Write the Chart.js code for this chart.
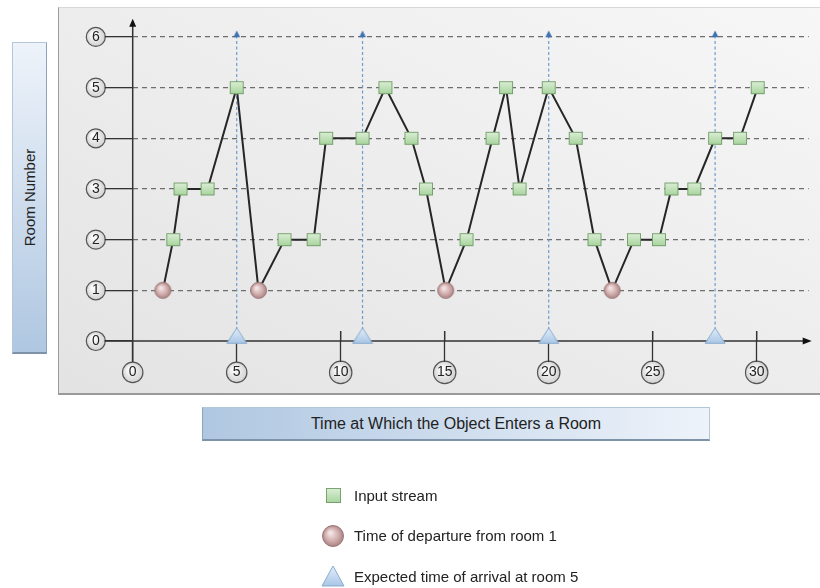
<!DOCTYPE html>
<html>
<head>
<meta charset="utf-8">
<title>Room entry times</title>
<script src="https://cdn.jsdelivr.net/npm/chart.js@4.4.1/dist/chart.umd.min.js"></script>
<style>
  body {
    margin: 0;
    width: 820px;
    height: 588px;
    position: relative;
    overflow: hidden;
    background: #fff;
    font-family: "Liberation Sans", Arial, sans-serif;
    color: #222;
  }
  #panel {
    position: absolute;
    left: 58px;
    top: 7px;
    width: 780px;
    height: 385px;
    background: linear-gradient(to top right, #e3e3e3, #f7f7f7);
    border-left: 1px solid #9c9c9c;
    border-top: 1px solid #d8d8d8;
    border-bottom: 2px solid #9a9a9a;
  }
  #chart-box {
    position: absolute;
    left: 0;
    top: 0;
    width: 820px;
    height: 588px;
  }
  .axis-title {
    position: absolute;
    box-sizing: border-box;
    display: flex;
    align-items: center;
    justify-content: center;
    white-space: nowrap;
  }
  #ytitle {
    left: 12px;
    top: 42px;
    width: 35px;
    height: 312px;
    font-size: 15px;
    background: linear-gradient(to bottom, #eef3fa, #afc7e1);
    border: 1px solid #b4c6da;
    border-right: 1px solid #8fa3ba;
    border-bottom: 2px solid #7e93aa;
  }
  #ytitle span { transform: rotate(-90deg); }
  #xtitle {
    left: 202px;
    top: 407px;
    width: 508px;
    height: 34px;
    font-size: 16px;
    background: linear-gradient(to right, #afc7e1, #eef3fa);
    border: 1px solid #b4c6da;
    border-left: 1px solid #8fa3ba;
    border-bottom: 2px solid #7e93aa;
  }
  #legend {
    position: absolute;
    left: 318px;
    top: 475px;
    font-size: 15px;
  }
  .item {
    display: flex;
    align-items: center;
    height: 40.5px;
  }
  .icon {
    width: 30px;
    display: flex;
    justify-content: center;
    margin-right: 6px;
  }
</style>
</head>
<body>
<div id="panel"></div>
<div id="chart-box"><canvas id="rooms-chart" width="820" height="588"></canvas></div>
<div id="ytitle" class="axis-title"><span>Room Number</span></div>
<div id="xtitle" class="axis-title">Time at Which the Object Enters a Room</div>
<div id="legend"></div>
<script>
// time (x) and room number (y) of each event in the input stream
const streamTimes = [1.45, 1.95, 2.3, 3.6, 5.0, 6.05, 7.3, 8.7, 9.3, 11.05, 12.15, 13.4, 14.1, 15.05, 16.05,
  17.3, 17.95, 18.6, 20.0, 21.3, 22.2, 23.05, 24.1, 25.3, 25.9, 27.0, 28.0, 29.2, 30.05];
const streamRooms = [1, 2, 3, 3, 5, 1, 2, 2, 4, 4, 5, 4, 3, 1, 2, 4, 5, 3, 5, 4, 2, 1, 2, 2, 3, 3, 4, 4, 5];
const departureRoom = 1;
const arrivalTimes = [5, 11.05, 20, 28];
const timeTicks = [0, 5, 10, 15, 20, 25, 30];
const roomTicks = [0, 1, 2, 3, 4, 5, 6];

const legendLabels = ["Input stream", "Time of departure from room 1", "Expected time of arrival at room 5"];

const tickFontSize = 14;
Chart.defaults.font.family = '"Liberation Sans", Arial, sans-serif';
Chart.defaults.font.size = tickFontSize;
Chart.defaults.color = "#222";

function makeCanvas(w, h, draw) {
  const c = document.createElement("canvas");
  c.width = w;
  c.height = h;
  draw(c.getContext("2d"), w, h);
  return c;
}

function squareMarker(w, h) {
  return makeCanvas(w + 2, h + 2, (ctx) => {
    const g = ctx.createLinearGradient(0, 1, 0, h + 1);
    g.addColorStop(0, "#dcf0d6");
    g.addColorStop(1, "#a6d39c");
    ctx.fillStyle = g;
    ctx.fillRect(1, 1, w, h);
    ctx.strokeStyle = "rgba(108,150,100,0.85)";
    ctx.lineWidth = 1;
    ctx.strokeRect(1.5, 1.5, w - 1, h - 1);
  });
}

function circleMarker(d) {
  return makeCanvas(d + 2, d + 2, (ctx) => {
    const r = d / 2;
    const c = r + 1;
    const g = ctx.createRadialGradient(c - r * 0.25, c - r * 0.3, r * 0.1, c, c, r);
    g.addColorStop(0, "#f3e5e5");
    g.addColorStop(0.6, "#cfa9a9");
    g.addColorStop(1, "#a67f7f");
    ctx.beginPath();
    ctx.arc(c, c, r - 0.5, 0, Math.PI * 2);
    ctx.fillStyle = g;
    ctx.fill();
    ctx.strokeStyle = "#9a7777";
    ctx.lineWidth = 1;
    ctx.stroke();
  });
}

// apex sits "up" px above the point, base "down" px below it
function triangleMarker(w, up, down) {
  const half = Math.ceil(Math.max(up, down)) + 1;
  return makeCanvas(w + 2, half * 2, (ctx) => {
    const cx = (w + 2) / 2;
    const g = ctx.createLinearGradient(0, half - up, 0, half + down);
    g.addColorStop(0, "#e4eefa");
    g.addColorStop(1, "#a8c6e6");
    ctx.beginPath();
    ctx.moveTo(cx, half - up);
    ctx.lineTo(cx + w / 2, half + down);
    ctx.lineTo(cx - w / 2, half + down);
    ctx.closePath();
    ctx.fillStyle = g;
    ctx.fill();
    ctx.strokeStyle = "#89abcd";
    ctx.lineWidth = 1;
    ctx.stroke();
  });
}

function arrowMarker() {
  return makeCanvas(10, 16, (ctx) => {
    ctx.beginPath();
    ctx.moveTo(5, 1.5);
    ctx.lineTo(8.4, 8.3);
    ctx.lineTo(1.6, 8.3);
    ctx.closePath();
    ctx.fillStyle = "#3e72b0";
    ctx.fill();
  });
}

const squareImg = squareMarker(14, 13);
const circleImg = circleMarker(17);
const triangleImg = triangleMarker(20, 13, 2.3);
const arrowImg = arrowMarker();

const streamPoints = streamTimes.map((t, i) => ({ x: t, y: streamRooms[i] }));
const departurePoints = streamPoints.filter((p) => p.y === departureRoom);
const guideTop = roomTicks[roomTicks.length - 1];
const guidePoints = arrivalTimes.flatMap((t) => [{ x: t, y: 0 }, { x: t, y: guideTop }, { x: t, y: null }]);

function badge(ctx, x, y, r) {
  const g = ctx.createRadialGradient(x - r * 0.3, y - r * 0.35, 1, x, y, r);
  g.addColorStop(0, "#ffffff");
  g.addColorStop(1, "#d2d2d2");
  ctx.beginPath();
  ctx.arc(x, y, r, 0, Math.PI * 2);
  ctx.fillStyle = g;
  ctx.fill();
  ctx.lineWidth = 1.2;
  ctx.strokeStyle = "#555";
  ctx.stroke();
}

const decorPlugin = {
  id: "decor",
  beforeDraw(chart) {
    const ctx = chart.ctx;
    const xs = chart.scales.x;
    const ys = chart.scales.y;
    ctx.save();
    ctx.font = tickFontSize + 'px "Liberation Sans", Arial, sans-serif';
    const digitHalf = ctx.measureText("0").width / 2;
    ys.ticks.forEach((t) => badge(ctx, ys.right - 28 - 5 - digitHalf, ys.getPixelForValue(t.value), 9.5));
    xs.ticks.forEach((t) => {
      const r = String(t.value).length > 1 ? 11.2 : 10.2;
      badge(ctx, xs.getPixelForValue(t.value), xs.top + 21 + 2 + tickFontSize * 0.6, r);
    });
    ctx.restore();
  },
  beforeDatasetsDraw(chart) {
    const ctx = chart.ctx;
    const area = chart.chartArea;
    const xs = chart.scales.x;
    const ys = chart.scales.y;
    const x0 = xs.getPixelForValue(0);
    const y0 = ys.getPixelForValue(0);
    ctx.save();
    ctx.strokeStyle = "#333";
    ctx.fillStyle = "#111";
    ctx.lineWidth = 1.5;
    ctx.beginPath();
    ctx.moveTo(x0, y0 + 21);
    ctx.lineTo(x0, area.top + 6);
    ctx.moveTo(area.left - 28, y0);
    ctx.lineTo(area.right - 2, y0);
    xs.ticks.forEach((t) => {
      if (t.value === 0) return;
      const px = xs.getPixelForValue(t.value);
      ctx.moveTo(px, y0 - 10);
      ctx.lineTo(px, y0);
    });
    ctx.stroke();
    // arrow heads
    ctx.beginPath();
    ctx.moveTo(x0, area.top + 2);
    ctx.lineTo(x0 + 3.5, area.top + 10);
    ctx.lineTo(x0 - 3.5, area.top + 10);
    ctx.closePath();
    ctx.moveTo(area.right + 3, y0);
    ctx.lineTo(area.right - 6, y0 - 3.5);
    ctx.lineTo(area.right - 6, y0 + 3.5);
    ctx.closePath();
    ctx.fill();
    ctx.restore();
  },
};

function renderChart() {
  const ctx = document.getElementById("rooms-chart").getContext("2d");
  new Chart(ctx, {
    type: "scatter",
    data: {
      datasets: [
        {
          label: legendLabels[1],
          data: departurePoints,
          pointStyle: circleImg,
          pointRadius: 8,
          clip: false,
        },
        {
          label: legendLabels[2],
          data: arrivalTimes.map((t) => ({ x: t, y: 0 })),
          pointStyle: triangleImg,
          pointRadius: 8,
          clip: false,
        },
        {
          label: legendLabels[0],
          data: streamPoints,
          showLine: true,
          borderColor: "#262626",
          borderWidth: 2,
          pointStyle: squareImg,
          pointRadius: (c) => (streamRooms[c.dataIndex] === departureRoom ? 0 : 7),
          clip: false,
        },
        {
          label: "arrival arrows",
          data: arrivalTimes.map((t) => ({ x: t, y: guideTop })),
          pointStyle: arrowImg,
          pointRadius: 4,
          clip: false,
        },
        {
          label: "arrival guides",
          data: guidePoints,
          showLine: true,
          spanGaps: false,
          borderColor: "#6f9bcc",
          borderWidth: 1.2,
          borderDash: [3, 2.5],
          pointRadius: 0,
        },
      ],
    },
    options: {
      responsive: false,
      animation: false,
      events: [],
      layout: { padding: { left: 72.7, right: 11.3, top: 16.7, bottom: 197 } },
      plugins: {
        legend: { display: false },
        tooltip: { enabled: false },
      },
      scales: {
        x: {
          type: "linear",
          min: 0,
          max: 32.5,
          afterBuildTicks: (s) => {
            s.ticks = timeTicks.map((v) => ({ value: v }));
          },
          afterFit: (s) => {
            s.height = 50;
            s.paddingLeft = 0;
            s.paddingRight = 0;
          },
          grid: { drawOnChartArea: false, tickLength: 21, tickColor: "#333", tickWidth: 1.3 },
          border: { display: false },
          ticks: { padding: 2, maxRotation: 0, autoSkip: false, color: "#222" },
        },
        y: {
          type: "linear",
          min: 0,
          max: 6.4,
          afterBuildTicks: (s) => {
            s.ticks = roomTicks.map((v) => ({ value: v }));
          },
          afterFit: (s) => {
            s.width = 60;
            s.paddingTop = 0;
            s.paddingBottom = 0;
          },
          grid: {
            color: (c) => (c.tick && c.tick.value === 0 ? "rgba(0,0,0,0)" : "#6e6e6e"),
            lineWidth: 1.3,
            tickLength: 28,
            tickColor: "#333",
            tickWidth: 1.3,
            tickBorderDash: [],
          },
          border: { display: false, dash: [5, 4] },
          ticks: { padding: 5, crossAlign: "center", color: "#222" },
        },
      },
    },
    plugins: [decorPlugin],
  });
}

function renderLegend() {
  const legend = document.getElementById("legend");
  const icons = [squareMarker(15, 15), circleMarker(22), triangleMarker(22, 10, 10)];
  legendLabels.forEach((label, i) => {
    const row = document.createElement("div");
    row.className = "item";
    const icon = document.createElement("div");
    icon.className = "icon";
    icon.appendChild(icons[i]);
    const text = document.createElement("span");
    text.textContent = label;
    row.appendChild(icon);
    row.appendChild(text);
    legend.appendChild(row);
  });
}

renderChart();
renderLegend();
</script>
</body>
</html>
